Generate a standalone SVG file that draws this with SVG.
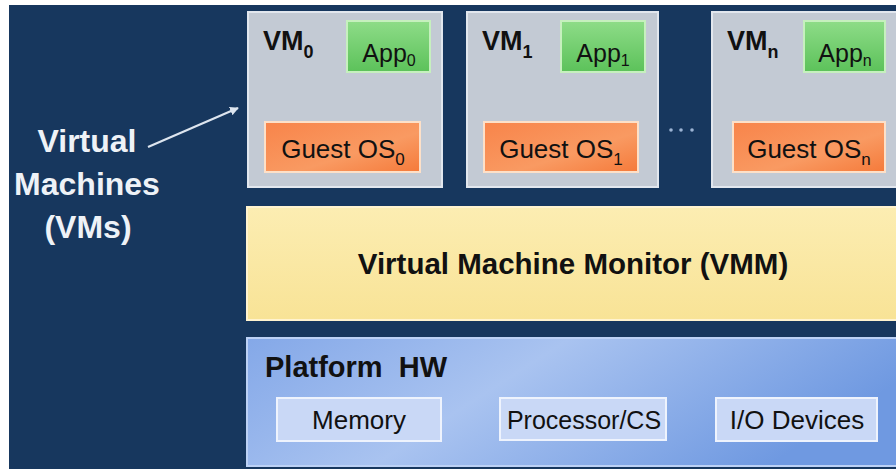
<svg xmlns="http://www.w3.org/2000/svg" width="896" height="469" viewBox="0 0 896 469">
  <defs>
    <linearGradient id="gApp" x1="0" y1="0" x2="0" y2="1">
      <stop offset="0" stop-color="#8edc88"/>
      <stop offset="1" stop-color="#5cc25a"/>
    </linearGradient>
    <linearGradient id="gOS" x1="0" y1="0" x2="1" y2="1">
      <stop offset="0" stop-color="#f8844a"/>
      <stop offset="0.6" stop-color="#f99a62"/>
      <stop offset="1" stop-color="#f57a3a"/>
    </linearGradient>
    <linearGradient id="gVMM" x1="0" y1="0" x2="0" y2="1">
      <stop offset="0" stop-color="#fcedb2"/>
      <stop offset="1" stop-color="#f8e396"/>
    </linearGradient>
    <linearGradient id="gHW" x1="0" y1="0" x2="1" y2="0.3">
      <stop offset="0" stop-color="#84a8e8"/>
      <stop offset="0.45" stop-color="#a9c3f0"/>
      <stop offset="1" stop-color="#6f99e1"/>
    </linearGradient>
    <marker id="ah" viewBox="0 0 10 10" refX="9" refY="5" markerWidth="4" markerHeight="4" orient="auto">
      <path d="M0,0 L10,5 L0,10 z" fill="#dde5ef"/>
    </marker>
  </defs>
  <style>
    .vm { fill: #c3cad4; stroke: #e2e7ee; stroke-width: 2; }
    .app { fill: url(#gApp); stroke: #c6f0be; stroke-width: 2; }
    .os { fill: url(#gOS); stroke: #fde0c8; stroke-width: 2; }
    .hwbox { fill: #c9d8f6; stroke: #eef3fd; stroke-width: 2; }
    .t { font-family: "Liberation Sans", Arial, sans-serif; fill: #111111; }
    .b { font-weight: bold; }
    .lbl { font-family: "Liberation Sans", Arial, sans-serif; font-weight: bold; font-size: 32px; fill: #eef2f7; text-anchor: middle; }
    .mid { text-anchor: middle; }
    .vml { font-size: 27px; }
    .appl { font-size: 25px; }
    .osl { font-size: 26px; }
    .hwl { font-size: 26px; }
  </style>

  <rect x="0" y="0" width="896" height="469" fill="#ffffff"/>
  <rect x="9" y="5" width="887" height="464" fill="#17375e"/>

  <g id="label-vms">
    <text class="lbl" x="87" y="152">Virtual</text>
    <text class="lbl" x="87" y="195">Machines</text>
    <text class="lbl" x="88" y="238">(VMs)</text>
  </g>

  <g id="vm0">
    <rect class="vm" x="248" y="12" width="194" height="175"/>
    <text class="t b vml" x="263" y="50">VM<tspan dy="8" font-size="18">0</tspan></text>
    <g id="app0">
      <rect class="app" x="347" y="21" width="83" height="51"/>
      <text class="t mid appl" x="389" y="62">App<tspan dy="4" font-size="16">0</tspan></text>
    </g>
    <g id="guestos0">
      <rect class="os" x="265" y="122" width="155" height="50"/>
      <text class="t mid osl" x="343" y="158">Guest OS<tspan dy="7" font-size="17">0</tspan></text>
    </g>
  </g>

  <g id="vm1">
    <rect class="vm" x="467" y="12" width="191" height="175"/>
    <text class="t b vml" x="482" y="50">VM<tspan dy="8" font-size="18">1</tspan></text>
    <g id="app1">
      <rect class="app" x="561" y="21" width="84" height="51"/>
      <text class="t mid appl" x="603" y="62">App<tspan dy="4" font-size="16">1</tspan></text>
    </g>
    <g id="guestos1">
      <rect class="os" x="484" y="122" width="154" height="50"/>
      <text class="t mid osl" x="561" y="158">Guest OS<tspan dy="7" font-size="17">1</tspan></text>
    </g>
  </g>

  <g id="ellipsis">
    <circle cx="671" cy="130" r="1.8" fill="#9db4d4"/>
    <circle cx="681" cy="130" r="1.8" fill="#9db4d4"/>
    <circle cx="692" cy="130" r="1.8" fill="#9db4d4"/>
  </g>

  <g id="vmn">
    <rect class="vm" x="712" y="12" width="196" height="175"/>
    <text class="t b vml" x="727" y="50">VM<tspan dy="8" font-size="18">n</tspan></text>
    <g id="appn">
      <rect class="app" x="804" y="21" width="81" height="51"/>
      <text class="t mid appl" x="845" y="62">App<tspan dy="4" font-size="16">n</tspan></text>
    </g>
    <g id="guestosn">
      <rect class="os" x="733" y="122" width="152" height="50"/>
      <text class="t mid osl" x="809" y="158">Guest OS<tspan dy="7" font-size="17">n</tspan></text>
    </g>
  </g>

  <g id="vmm">
    <rect x="247" y="207" width="660" height="113" fill="url(#gVMM)" stroke="#fff3cf" stroke-width="2"/>
    <text class="t b mid" x="573" y="274" font-size="29.5">Virtual Machine Monitor (VMM)</text>
  </g>

  <g id="platform-hw">
    <rect x="247" y="338" width="660" height="128" fill="url(#gHW)" stroke="#bcd1f5" stroke-width="2"/>
    <text class="t b" x="265" y="377" font-size="29" style="white-space:pre">Platform  HW</text>
    <g id="memory">
      <rect class="hwbox" x="277" y="398" width="164" height="43"/>
      <text class="t mid hwl" x="359" y="429">Memory</text>
    </g>
    <g id="processor">
      <rect class="hwbox" x="500" y="398" width="166" height="42"/>
      <text class="t mid" x="584" y="429" font-size="25">Processor/CS</text>
    </g>
    <g id="io-devices">
      <rect class="hwbox" x="716" y="398" width="161" height="43"/>
      <text class="t mid hwl" x="797" y="429">I/O Devices</text>
    </g>
  </g>

  <g id="connectors">
    <line x1="148" y1="147" x2="238" y2="108" stroke="#dde5ef" stroke-width="2.2" marker-end="url(#ah)"/>
  </g>
</svg>
